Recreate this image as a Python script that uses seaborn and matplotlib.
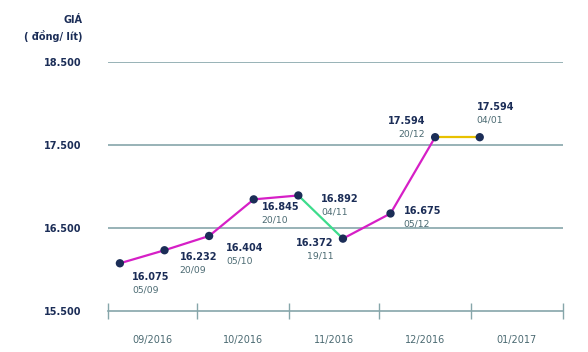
import seaborn as sns
import numpy as np
import pandas as pd
import matplotlib as mpl
import matplotlib.pyplot as plt
import matplotlib.dates as mdates

# du lieu gia xang
ngay = ["2016-09-05", "2016-09-20", "2016-10-05", "2016-10-20", "2016-11-04",
        "2016-11-19", "2016-12-05", "2016-12-20", "2017-01-04"]
gia = [16075, 16232, 16404, 16845, 16892, 16372, 16675, 17594, 17594]
nhan_gia = ["16.075", "16.232", "16.404", "16.845", "16.892",
            "16.372", "16.675", "17.594", "17.594"]
nhan_ngay = ["05/09", "20/09", "05/10", "20/10", "04/11",
             "19/11", "05/12", "20/12", "04/01"]
thang = ["09/2016", "10/2016", "11/2016", "12/2016", "01/2017"]
moc_y = [15500, 16500, 17500, 18500]
nhan_y = ["15.500", "16.500", "17.500", "18.500"]

df = pd.DataFrame({"ngay": pd.to_datetime(ngay), "gia": gia})

# mau cho tung doan
mau_doan = ["#d61fc6", "#d61fc6", "#d61fc6", "#d61fc6", "#3ddc8c",
            "#d61fc6", "#d61fc6", "#e8c100"]
# vi tri nhan (pixel): dx, dy, canh le
vitri = [(12, -14, "left"), (15, -7, "left"), (17, -12, "left"), (8, -8, "left"),
         (23, -4, "left"), (-9, -4, "right"), (13, 2, "left"), (-10, 16, "right"),
         (-3, 30, "left")]

navy = "#1b2d57"
xam = "#4b6a72"
luoi = "#86a6aa"

sns.set_style("white")
plt.rcParams["font.family"] = ["DejaVu Sans"]

fig = plt.figure(figsize=(5.88, 3.52), dpi=100)
ax = fig.add_axes([108 / 588, 1 - 311 / 352, 455 / 588, 249 / 352])

for i in range(len(df) - 1):
    sns.lineplot(data=df.iloc[i:i + 2], x="ngay", y="gia", color=mau_doan[i],
                 linewidth=1.6, ax=ax, zorder=3)
sns.scatterplot(data=df, x="ngay", y="gia", color=navy, s=36, edgecolor="none",
                ax=ax, zorder=4)

for i in range(len(df)):
    dx, dy, ha = vitri[i]
    ax.annotate(nhan_gia[i], (mdates.date2num(df["ngay"][i]), gia[i]),
                xytext=(dx, dy), textcoords="offset pixels", ha=ha, va="center",
                fontsize=7, fontweight="bold", color=navy)
    ax.annotate(nhan_ngay[i], (mdates.date2num(df["ngay"][i]), gia[i]),
                xytext=(dx, dy - 13), textcoords="offset pixels", ha=ha, va="center",
                fontsize=6.7, color=xam)

ax.set_ylim(15500, 18500)
ax.set_xlim(pd.Timestamp("2016-09-01"), pd.Timestamp("2017-02-01"))
for v in moc_y[1:]:
    ax.axhline(v, color=luoi, linewidth=1.2, zorder=1)

ax.set_yticks(moc_y)
ax.set_yticklabels(nhan_y, fontsize=7, fontweight="bold", color=navy)
ax.tick_params(axis="y", length=0, pad=19)

moc_thang = pd.date_range("2016-09-01", "2017-02-01", freq="MS")
ax.set_xticks(moc_thang)
ax.set_xticklabels([""] * len(moc_thang))
ax.tick_params(axis="x", which="major", bottom=True, direction="inout",
               length=11, width=1, color=luoi)
giua = moc_thang[:-1] + (moc_thang[1:] - moc_thang[:-1]) / 2
ax.set_xticks(giua, minor=True)
ax.set_xticklabels(thang, minor=True, fontsize=7, color=xam)
ax.tick_params(axis="x", which="minor", bottom=True, length=0, pad=17)

for s in ["top", "right", "left"]:
    ax.spines[s].set_visible(False)
ax.spines["bottom"].set_color(luoi)
ax.spines["bottom"].set_linewidth(1.2)
ax.set_xlabel("")
ax.set_ylabel("")

fig.text(82 / 588, 1 - 20 / 352, "GIÁ", ha="right", va="center",
         fontsize=7, fontweight="bold", color=navy)
fig.text(82 / 588, 1 - 36 / 352, "( đồng/ lít)", ha="right", va="center",
         fontsize=7, fontweight="bold", color=navy)

fig.savefig("out.png", dpi=100)
